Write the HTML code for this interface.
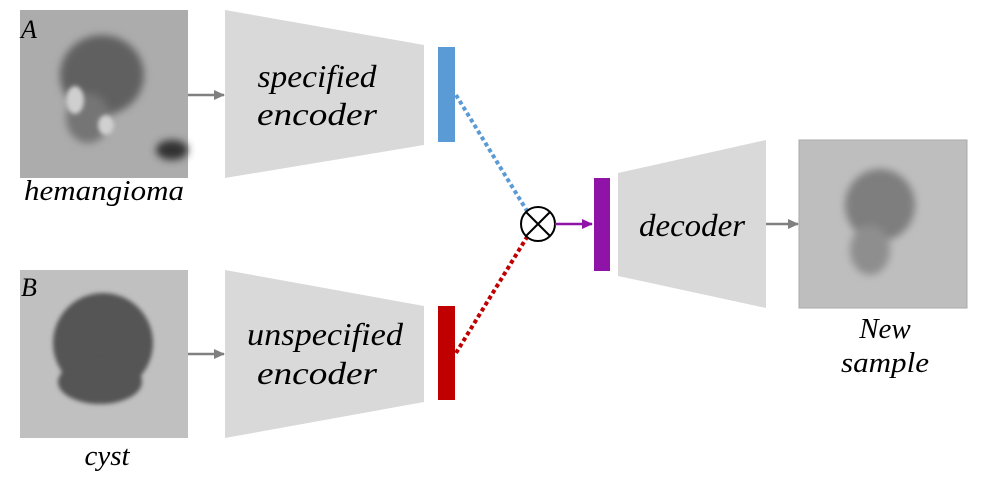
<!DOCTYPE html>
<html><head><meta charset="utf-8"><style>
html,body{margin:0;padding:0;background:#fff;}
svg text{font-family:"Liberation Serif",serif;font-style:italic;fill:#000;}
</style></head><body>
<svg width="983" height="489" viewBox="0 0 983 489" xmlns="http://www.w3.org/2000/svg">
<defs>
<filter id="bl" x="-50%" y="-50%" width="200%" height="200%"><feGaussianBlur stdDeviation="4"/></filter>
<filter id="bl2" x="-50%" y="-50%" width="200%" height="200%"><feGaussianBlur stdDeviation="2"/></filter>
<marker id="ag" markerUnits="userSpaceOnUse" markerWidth="11" markerHeight="10" refX="10" refY="5" orient="auto"><path d="M0,0 L11,5 L0,10 z" fill="#808080"/></marker>
<marker id="ap" markerUnits="userSpaceOnUse" markerWidth="11" markerHeight="10" refX="10" refY="5" orient="auto"><path d="M0,0 L11,5 L0,10 z" fill="#9013a8"/></marker>
</defs>

<g>
<rect x="20" y="10" width="168" height="168" fill="#acacac"/>
<ellipse cx="102" cy="75" rx="42" ry="40" fill="#606060" filter="url(#bl)"/>
<ellipse cx="88" cy="118" rx="22" ry="25" fill="#747474" filter="url(#bl)"/>
<ellipse cx="75" cy="100" rx="9" ry="14" fill="#cfcfcf" filter="url(#bl2)"/>
<ellipse cx="106" cy="125" rx="8" ry="10" fill="#d0d0d0" filter="url(#bl2)"/>
<ellipse cx="172" cy="150" rx="16" ry="10" fill="#333" filter="url(#bl)"/>
</g>
<text x="21" y="38" font-size="26">A</text>
<text x="104" y="200" font-size="29" text-anchor="middle" textLength="160" lengthAdjust="spacingAndGlyphs">hemangioma</text>

<g>
<rect x="20" y="270" width="168" height="168" fill="#c0c0c0"/>
<ellipse cx="103" cy="343" rx="50" ry="50" fill="#555" filter="url(#bl2)"/>
<ellipse cx="100" cy="382" rx="42" ry="22" fill="#555" filter="url(#bl2)"/>
</g>
<text x="21" y="296" font-size="26">B</text>
<text x="107" y="465" font-size="29" text-anchor="middle">cyst</text>

<line x1="188" y1="95" x2="224" y2="95" stroke="#808080" stroke-width="2.5" marker-end="url(#ag)"/>
<line x1="188" y1="354" x2="224" y2="354" stroke="#808080" stroke-width="2.5" marker-end="url(#ag)"/>

<polygon points="225,10 424,45 424,145 225,178" fill="#d9d9d9"/>
<text x="317" y="87" font-size="32" text-anchor="middle" textLength="119" lengthAdjust="spacingAndGlyphs">specified</text>
<text x="317" y="125" font-size="32" text-anchor="middle" textLength="120" lengthAdjust="spacingAndGlyphs">encoder</text>

<polygon points="225,270 424,306 424,402 225,438" fill="#d9d9d9"/>
<text x="325" y="345" font-size="32" text-anchor="middle" textLength="156" lengthAdjust="spacingAndGlyphs">unspecified</text>
<text x="317" y="384" font-size="32" text-anchor="middle" textLength="120" lengthAdjust="spacingAndGlyphs">encoder</text>

<rect x="438" y="47" width="17" height="95" fill="#5b9bd5"/>
<rect x="438" y="306" width="17" height="94" fill="#c00000"/>

<line x1="456" y1="95" x2="527" y2="211" stroke="#5b9bd5" stroke-width="4" stroke-dasharray="4,3"/>
<line x1="456" y1="353" x2="527" y2="237" stroke="#c00000" stroke-width="4" stroke-dasharray="4,3"/>

<g>
<circle cx="538" cy="224" r="17" fill="#fff" stroke="#000" stroke-width="2"/>
<line x1="526" y1="212" x2="550" y2="236" stroke="#000" stroke-width="2"/>
<line x1="550" y1="212" x2="526" y2="236" stroke="#000" stroke-width="2"/>
</g>
<line x1="555" y1="224" x2="592" y2="224" stroke="#9013a8" stroke-width="2.5" marker-end="url(#ap)"/>
<rect x="594" y="178" width="16" height="93" fill="#9013a8"/>

<polygon points="618,173 766,140 766,308 618,276" fill="#d9d9d9"/>
<text x="692" y="236" font-size="32" text-anchor="middle" textLength="106" lengthAdjust="spacingAndGlyphs">decoder</text>

<line x1="766" y1="224" x2="798" y2="224" stroke="#808080" stroke-width="2.5" marker-end="url(#ag)"/>

<g>
<rect x="799" y="140" width="168" height="168" fill="#bebebe" stroke="#aaa" stroke-width="1"/>
<ellipse cx="880" cy="205" rx="35" ry="36" fill="#7e7e7e" filter="url(#bl)"/>
<ellipse cx="870" cy="250" rx="20" ry="25" fill="#8e8e8e" filter="url(#bl)"/>
</g>
<text x="885" y="338" font-size="29" text-anchor="middle">New</text>
<text x="885" y="372" font-size="29" text-anchor="middle" textLength="88" lengthAdjust="spacingAndGlyphs">sample</text>
</svg>
</body></html>
